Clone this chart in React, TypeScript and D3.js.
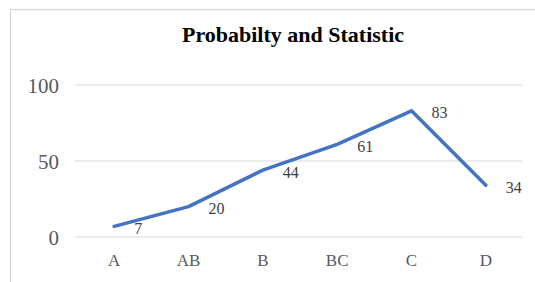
import React from "react";
import * as d3 from "d3";

const categories = ["A", "AB", "B", "BC", "C", "D"];
const values = [7, 20, 44, 61, 83, 34];
const yTicks = [0, 50, 100];
const title = "Probabilty and Statistic";

export default function App() {
  const W = 535;
  const H = 282;
  const x = d3.scaleBand<string>().domain(categories).range([77, 523]);
  const y = d3.scaleLinear().domain([0, 100]).range([237, 85]);
  const cx = (c: string) => (x(c) as number) + x.bandwidth() / 2;
  const line = d3
    .line<number>()
    .x((_, i) => cx(categories[i]))
    .y((v) => y(v));
  const font = "'Liberation Serif', 'Times New Roman', serif";
  return (
    <svg
      width={W}
      height={H}
      style={{ position: "absolute", left: 0, top: 0, background: "#fff" }}
    >
      <rect x={0} y={0} width={W} height={H} fill="#fff" />
      <rect
        x={10.5}
        y={9.5}
        width={W + 20}
        height={H + 20}
        fill="#fff"
        stroke="#d4d4d4"
        strokeWidth={1.2}
      />
      <text
        x={293}
        y={42}
        textAnchor="middle"
        fontFamily={font}
        fontWeight="bold"
        fontSize={22}
        fill="#000"
      >
        {title}
      </text>
      {yTicks.map((t) => (
        <g key={t}>
          <line
            x1={75}
            x2={523}
            y1={y(t)}
            y2={y(t)}
            stroke="#d9d9d9"
            strokeWidth={1}
          />
          <text
            x={59}
            y={y(t) + 1}
            textAnchor="end"
            dominantBaseline="central"
            fontFamily={font}
            fontSize={21}
            fill="#595959"
          >
            {t}
          </text>
        </g>
      ))}
      {categories.map((c) => (
        <text
          key={c}
          x={cx(c)}
          y={260}
          textAnchor="middle"
          dominantBaseline="central"
          fontFamily={font}
          fontSize={17}
          fill="#595959"
        >
          {c}
        </text>
      ))}
      <path
        d={line(values) || ""}
        fill="none"
        stroke="#4472c4"
        strokeWidth={3.5}
        strokeLinejoin="round"
        strokeLinecap="round"
      />
      {values.map((v, i) => (
        <text
          key={i}
          x={cx(categories[i]) + 20}
          y={y(v) + 2}
          textAnchor="start"
          dominantBaseline="central"
          fontFamily={font}
          fontSize={16}
          fill="#404040"
        >
          {v}
        </text>
      ))}
    </svg>
  );
}
